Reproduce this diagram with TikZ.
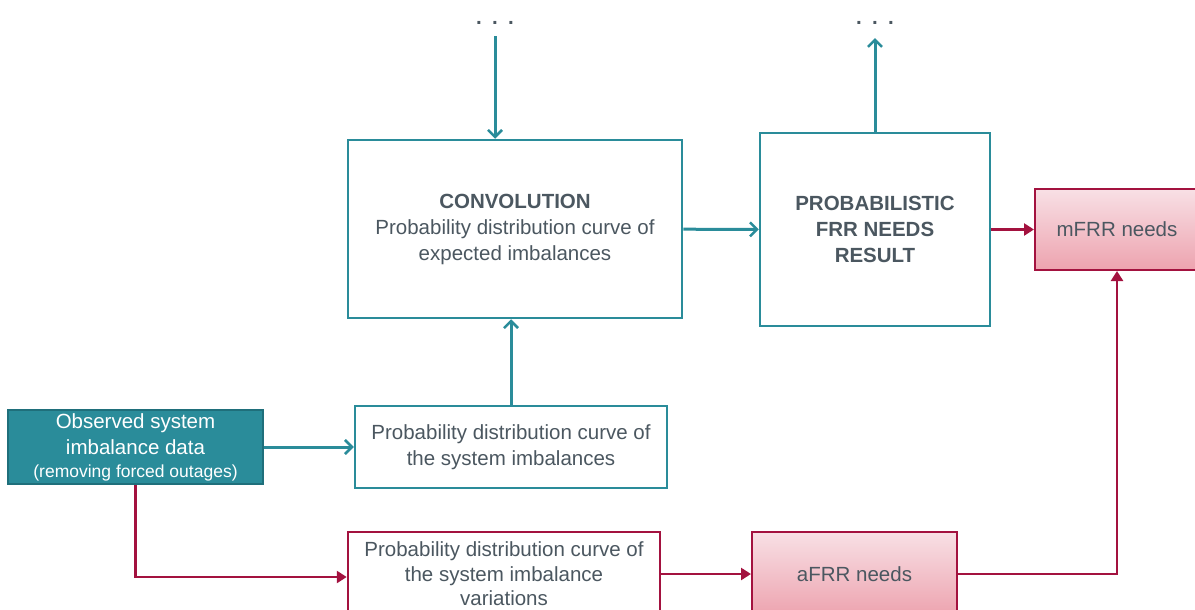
\documentclass[tikz,border=0pt]{standalone}
\usepackage{fontspec}
\setmainfont{Liberation Sans}
\usetikzlibrary{arrows.meta}
\definecolor{tealline}{HTML}{2A8C9A}
\definecolor{tealdark}{HTML}{1F6F7B}
\definecolor{redline}{HTML}{A3123F}
\definecolor{pinktop}{HTML}{F8E0E5}
\definecolor{pinkbot}{HTML}{EDA3AF}
\definecolor{textgray}{HTML}{4B5760}
\begin{document}
\begin{tikzpicture}
[x=1pt,y=-1pt,
  font=\fontsize{20.5}{26}\selectfont,text=textgray,
  tealbox/.style={shape=rectangle,draw=tealline,line width=2.5pt,fill=white,align=center,inner sep=0pt},%
  redbox/.style={shape=rectangle,draw=redline,line width=2.5pt,fill=white,align=center,inner sep=0pt},%
  needbox/.style={shape=rectangle,draw=redline,line width=2pt,top color=pinktop,bottom color=pinkbot,align=center,inner sep=0pt},%
  tealdecorate/.style={draw=tealline,line width=3pt,-{Straight Barb[length=7pt,width=14pt,line width=2.5pt]}},%
  reddecorate/.style={draw=redline,line width=2.8pt,-{Triangle[length=10pt,width=12pt]}}]
\useasboundingbox (0,0) rectangle (1195,610);
%% nodes or vertices
\node (dotsin) at (495,23) [inner sep=0pt,minimum height=26] {\textbf{.\,\,\,.\,\,\,.}};
\node (dotsout) at (875,23) [inner sep=0pt,minimum height=30] {\textbf{.\,\,\,.\,\,\,.}};
\node (conv) at (515,229) [tealbox,minimum width=334,minimum height=178]
  {\textbf{CONVOLUTION}\\Probability distribution curve of\\expected imbalances};
\node (prob) at (875,229.5) [tealbox,minimum width=230,minimum height=193]
  {\textbf{PROBABILISTIC}\\\textbf{FRR NEEDS}\\\textbf{RESULT}};
\node (mfrr) at (1117,229.5) [needbox,minimum width=164,minimum height=81] {mFRR needs};
\node (obs) at (135.5,447) [shape=rectangle,draw=tealdark,line width=2pt,fill=tealline,
  text=white,align=center,inner sep=0pt,minimum width=255,minimum height=74]
  {Observed system\\imbalance data\\[-3pt]{\fontsize{17.5}{20}\selectfont(removing forced outages)}};
\node (sysimb) at (511,447) [tealbox,minimum width=312,minimum height=82]
  {Probability distribution curve of\\the system imbalances};
\node (var) at (504,574) [redbox,minimum width=312,minimum height=84,
  font=\fontsize{20.5}{24.5}\selectfont]
  {Probability distribution curve of\\the system imbalance\\variations};
\node (afrr) at (854.5,574) [needbox,minimum width=205,minimum height=84] {aFRR needs};
%% edges or lines
\draw[tealdecorate] (dotsin.south) -- (conv.north -| dotsin);
\draw[tealdecorate] (prob.north) -- (dotsout.south);
\draw[tealdecorate] (sysimb.north) -- (sysimb |- conv.south);
\path
\foreach \startnode/\endnode in {conv/prob, obs/sysimb} {
  (\startnode) edge[tealdecorate] (\endnode)
};
\path
\foreach \startnode/\endnode in {prob/mfrr, var/afrr} {
  (\startnode) edge[reddecorate] (\endnode)
};
\draw[reddecorate] (obs.south) |- ([yshift=-3pt]var.west);
\draw[reddecorate] (afrr.east) -| (mfrr.south);
\end{tikzpicture}
\end{document}
